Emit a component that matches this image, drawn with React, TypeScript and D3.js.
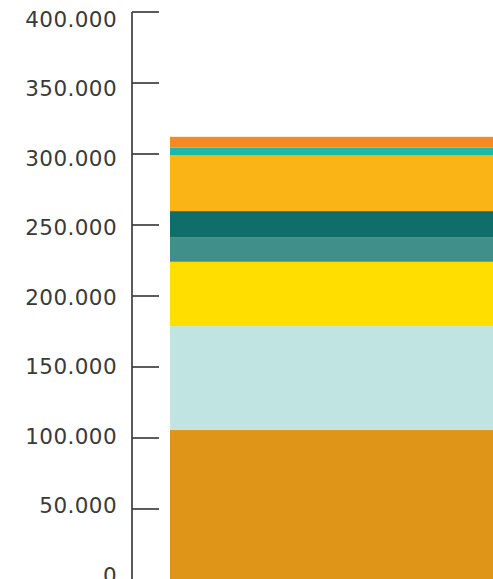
import React, { useEffect, useRef } from 'react';
import * as d3 from 'd3';

// single stacked column, segments listed bottom to top
const categories = ['Total'];
const segmentKeys = ['s1', 's2', 's3', 's4', 's5', 's6', 's7', 's8'];
const segmentValues = [105800, 73000, 45300, 17400, 18300, 39200, 5400, 7700];
const segmentColors = ['#DF9518', '#C0E4E1', '#FFDE00', '#418F89', '#0F6E6A', '#FBB415', '#1BB9A9', '#F28C22'];
const tickValues = [0, 50000, 100000, 150000, 200000, 250000, 300000, 350000, 400000];

const App = () => {
  const chartRef = useRef<HTMLDivElement | null>(null);

  useEffect(() => {
    const svgWidth = 493;
    const svgHeight = 579;

    const row: Record<string, any> = { category: categories[0] };
    segmentKeys.forEach((k, i) => { row[k] = segmentValues[i]; });
    const series = d3.stack().keys(segmentKeys)([row] as any);

    const svg = d3
      .select(chartRef.current)
      .append('svg')
      .attr('width', svgWidth)
      .attr('height', svgHeight)
      .style('position', 'absolute')
      .style('left', '0px')
      .style('top', '0px')
      .style('overflow', 'hidden');

    const y = d3.scaleLinear().domain([0, 400000]).range([580, 12]);
    // labels sit on a slightly tighter scale than the ticks in the original
    const yLabel = d3.scaleLinear().domain([0, 400000]).range([575, 19]);
    const x = d3.scaleBand().domain(categories).range([170, 520]).padding(0);

    const fmt = d3.formatLocale({ decimal: ',', thousands: '.', grouping: [3], currency: ['', ''] }).format(',.0f');

    // bars
    svg
      .append('g')
      .selectAll('g')
      .data(series)
      .enter()
      .append('g')
      .attr('fill', (_d, i) => segmentColors[i])
      .selectAll('rect')
      .data((d) => d)
      .enter()
      .append('rect')
      .attr('x', (d: any) => x(d.data.category) as number)
      .attr('width', x.bandwidth())
      .attr('y', (d) => y(d[1]))
      .attr('height', (d) => y(d[0]) - y(d[1]));

    // axis
    const axis = svg.append('g').attr('transform', 'translate(132,0)');
    axis
      .append('line')
      .attr('x1', 0)
      .attr('x2', 0)
      .attr('y1', y(400000))
      .attr('y2', svgHeight + 5)
      .attr('stroke', '#333')
      .attr('stroke-width', 1.6);

    axis
      .selectAll('.tick')
      .data(tickValues)
      .enter()
      .append('line')
      .attr('class', 'tick')
      .attr('x1', 0)
      .attr('x2', 27)
      .attr('y1', (d) => y(d))
      .attr('y2', (d) => y(d))
      .attr('stroke', '#333')
      .attr('stroke-width', 1.6);

    svg
      .append('g')
      .selectAll('text')
      .data(tickValues)
      .enter()
      .append('text')
      .attr('x', 117)
      .attr('y', (d) => yLabel(d))
      .attr('dy', '0.36em')
      .attr('text-anchor', 'end')
      .style('font-family', "'DejaVu Sans', sans-serif")
      .style('font-size', '21.5px')
      .style('letter-spacing', '0.4px')
      .style('fill', '#3a3a3a')
      .text((d) => fmt(d));

    return () => {
      d3.select(chartRef.current).selectAll('*').remove();
    };
  }, []);

  return <div ref={chartRef} className="chart"></div>;
};

export default App;
